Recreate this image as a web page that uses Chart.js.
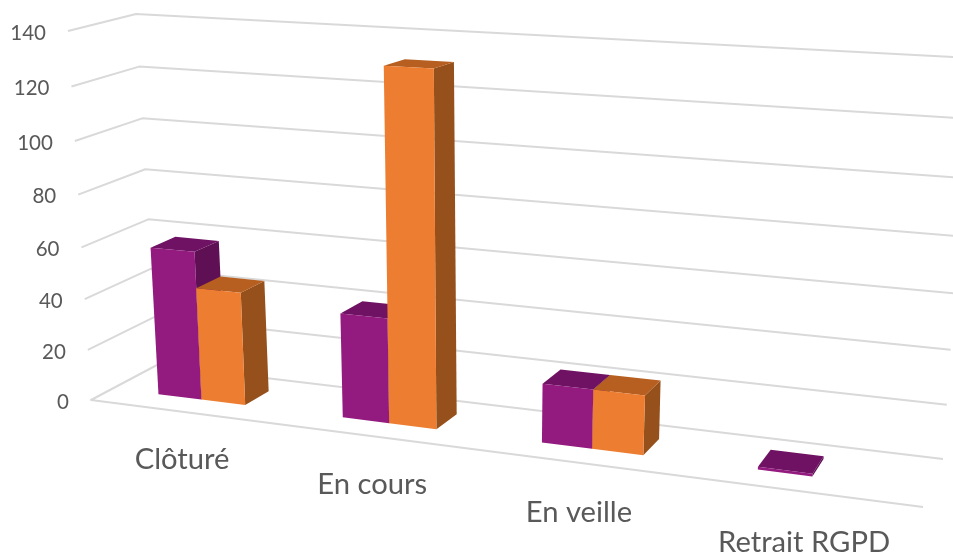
<!DOCTYPE html>
<html>
<head>
<meta charset="utf-8">
<title>Chart</title>
<script src="https://cdn.jsdelivr.net/npm/chart.js@4"></script>
<style>
  html, body { margin: 0; padding: 0; background: #fff; }
  canvas { display: block; }
</style>
</head>
<body>
<canvas id="chart" width="953" height="558"></canvas>
<script>
const categories = ['Clôturé', 'En cours', 'En veille', 'Retrait RGPD'];
const purpleValues = [58, 40, 22, 1];
const orangeValues = [44, 131, 22, 0];
const yMax = 140;
const yStep = 20;

// corners of the 3D box on screen: bottom-left, bottom-right, top-right, top-left
const frontQuad = [[91, 400], [923, 507], [958, 73], [68, 31]];
const backQuad = [[157, 365], [943, 459], [971, 58], [136, 14]];
const barDepth = [0.33, 0.71];

const faceColors = {
  '#931A7E': { top: '#6F1263', side: '#5F0F53' },
  '#ED7D31': { top: '#B65F20', side: '#96501B' }
};

function homography(q) {
  const [[x0, y0], [x1, y1], [x2, y2], [x3, y3]] = q;
  const dx1 = x1 - x2, dx2 = x3 - x2, sx = x0 - x1 + x2 - x3;
  const dy1 = y1 - y2, dy2 = y3 - y2, sy = y0 - y1 + y2 - y3;
  const den = dx1 * dy2 - dx2 * dy1;
  const g = (sx * dy2 - dx2 * sy) / den;
  const h = (dx1 * sy - sx * dy1) / den;
  const a = x1 - x0 + g * x1, b = x3 - x0 + h * x3;
  const d = y1 - y0 + g * y1, e = y3 - y0 + h * y3;
  return (u, v) => {
    const w = g * u + h * v + 1;
    return [(a * u + b * v + x0) / w, (d * u + e * v + y0) / w];
  };
}

const frontPlane = homography(frontQuad);
const backPlane = homography(backQuad);

// u, v are 0..1 across the plot area, z is 0 at the front and 1 at the back
function project(u, v, z) {
  const f = frontPlane(u, v), b = backPlane(u, v);
  return [f[0] + (b[0] - f[0]) * z, f[1] + (b[1] - f[1]) * z];
}

function face(ctx, pts, color) {
  ctx.fillStyle = color;
  ctx.beginPath();
  pts.forEach((p, i) => i ? ctx.lineTo(p[0], p[1]) : ctx.moveTo(p[0], p[1]));
  ctx.closePath();
  ctx.fill();
}

const box3d = {
  id: 'box3d',
  beforeDatasetsDraw(chart) {
    const ctx = chart.ctx;
    const area = chart.chartArea;
    const yScale = chart.scales.y;
    const toU = px => (px - area.left) / area.width;
    const toV = px => (area.bottom - px) / area.height;

    ctx.save();

    // walls and floor
    ctx.strokeStyle = '#D9D9D9';
    ctx.lineWidth = 2;
    ctx.lineJoin = 'round';
    yScale.ticks.forEach(t => {
      const v = toV(yScale.getPixelForValue(t.value));
      const a = project(0, v, 0), b = project(0, v, 1), c = project(1, v, 1);
      ctx.beginPath();
      if (t.value === 0) {
        const d = project(1, v, 0);
        ctx.moveTo(c[0], c[1]);
        ctx.lineTo(b[0], b[1]);
        ctx.lineTo(a[0], a[1]);
        ctx.lineTo(d[0], d[1]);
      } else {
        ctx.moveTo(a[0], a[1]);
        ctx.lineTo(b[0], b[1]);
        ctx.lineTo(c[0], c[1]);
      }
      ctx.stroke();
    });

    // tick labels
    ctx.fillStyle = '#595959';
    ctx.font = '20.5px Lato';
    ctx.textAlign = 'right';
    ctx.textBaseline = 'middle';
    yScale.ticks.forEach(t => {
      const v = toV(yScale.getPixelForValue(t.value));
      const p = project(0, v, 0);
      ctx.fillText(t.label, p[0] - 22, p[1] + 2);
    });

    // category labels
    ctx.font = '29.2px Lato';
    ctx.textAlign = 'center';
    chart.data.labels.forEach((label, i) => {
      const u = toU(chart.scales.x.getPixelForValue(i));
      const p = project(u, 0, 0);
      ctx.fillText(label, p[0] + 1.5, p[1] + 47 + 5 * u);
    });

    // bars, back faces first and left to right
    chart.data.labels.forEach((label, i) => {
      chart.data.datasets.forEach((ds, k) => {
        if (!ds.data[i]) return;
        const el = chart.getDatasetMeta(k).data[i];
        const u0 = toU(el.x - el.width / 2), u1 = toU(el.x + el.width / 2);
        const v0 = toV(el.base), v1 = toV(el.y);
        const [z0, z1] = barDepth;
        const colors = faceColors[ds.backgroundColor];
        face(ctx, [project(u1, v0, z0), project(u1, v0, z1), project(u1, v1, z1), project(u1, v1, z0)], colors.side);
        face(ctx, [project(u0, v1, z0), project(u1, v1, z0), project(u1, v1, z1), project(u0, v1, z1)], colors.top);
        face(ctx, [project(u0, v0, z0), project(u1, v0, z0), project(u1, v1, z0), project(u0, v1, z0)], ds.backgroundColor);
      });
    });

    ctx.restore();
    return false;
  }
};

new Chart(document.getElementById('chart'), {
  type: 'bar',
  data: {
    labels: categories,
    datasets: [
      { label: 'Série 1', data: purpleValues, backgroundColor: '#931A7E' },
      { label: 'Série 2', data: orangeValues, backgroundColor: '#ED7D31' }
    ]
  },
  options: {
    responsive: false,
    animation: false,
    categoryPercentage: 0.48,
    barPercentage: 1,
    layout: { padding: 0 },
    plugins: { legend: { display: false }, tooltip: { enabled: false } },
    scales: {
      x: { display: false },
      y: { display: false, min: 0, max: yMax, ticks: { stepSize: yStep } }
    }
  },
  plugins: [box3d]
});
</script>
</body>
</html>
